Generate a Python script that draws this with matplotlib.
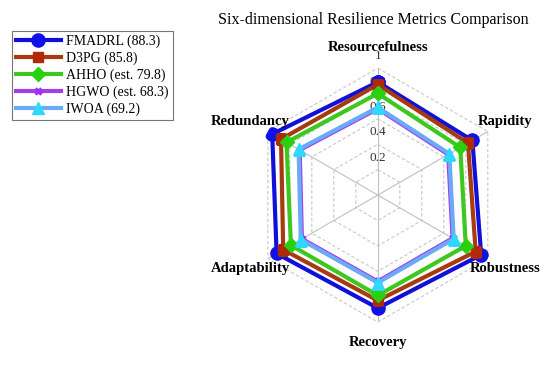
import numpy as np
import matplotlib
matplotlib.use("Agg")
import matplotlib.pyplot as plt

plt.rcParams['font.family'] = ['Liberation Serif', 'DejaVu Serif']

categories = ["Resourcefulness", "Rapidity", "Robustness", "Recovery", "Adaptability", "Redundancy"]
series_names = ["FMADRL (88.3)", "D3PG (85.8)", "AHHO (est. 79.8)", "HGWO (est. 68.3)", "IWOA (69.2)"]
fmadrl = [0.89, 0.86, 0.94, 0.89, 0.92, 0.96]
d3pg   = [0.87, 0.82, 0.89, 0.83, 0.86, 0.88]
ahho   = [0.80, 0.75, 0.80, 0.79, 0.79, 0.83]
hgwo   = [0.68, 0.64, 0.68, 0.68, 0.69, 0.71]
iwoa   = [0.69, 0.65, 0.69, 0.69, 0.70, 0.72]
r_ticks = [0.2, 0.4, 0.6, 0.8, 1.0]
r_tick_labels = ["0.2", "0.4", "0.6", "0.8", "1"]

values = [fmadrl, d3pg, ahho, hgwo, iwoa]
line_colors = ["#1010D8", "#A83A10", "#3CC81E", "#A040E8", "#6AAAF8"]
marker_face = ["#1010E8", "#B02A08", "#28D010", "#A030F0", "#30D8FF"]
markers = ["o", "s", "D", "x", "^"]
msizes = [9.5, 7.5, 7.5, 5, 8.5]

fig = plt.figure(figsize=(5.5, 3.66), dpi=100)
ax = fig.add_axes([0.456, 0.120, 0.4618, 0.694], projection='polar')
ax.set_theta_zero_location('N')
ax.set_theta_direction(-1)
ax.set_ylim(0, 1.0)

n = len(categories)
theta = np.linspace(0, 2 * np.pi, n, endpoint=False)
theta_c = np.concatenate([theta, theta[:1]])

ax.grid(False)
ax.spines['polar'].set_visible(False)
ax.set_xticks([])
ax.set_yticks([])
ax.patch.set_alpha(0)

# hexagonal dashed grid
for r in r_ticks:
    ax.plot(theta_c, [r] * (n + 1), color="#c8c8c8", lw=0.8, ls=(0, (3, 2)), zorder=1)
for t in theta:
    ax.plot([t, t], [0, 1.0], color="#c0c0c0", lw=0.8, zorder=1)

# radial labels
for r, lab in zip(r_ticks, r_tick_labels):
    ax.annotate(lab, xy=(0, r), xytext=(0, 8.5), textcoords='offset points',
                ha='center', va='center', fontsize=9.5, color="#333333", zorder=1.5)

handles = []
for vals, name, lc, mf, mk, ms in zip(values, series_names, line_colors, marker_face, markers, msizes):
    v = list(vals) + [vals[0]]
    mew = 2.5 if mk == "x" else 1
    h, = ax.plot(theta_c, v, color=lc, lw=3, marker=mk, markersize=ms,
                 markerfacecolor=mf, markeredgecolor=mf, markeredgewidth=mew,
                 label=name, zorder=3)
    handles.append(h)

for t, c in zip(theta, categories):
    ax.text(t, 1.16, c, ha='center', va='center', fontsize=10.5, fontweight='bold')

fig.text(0.678, 0.945, "Six-dimensional Resilience Metrics Comparison", ha='center', va='center',
         fontsize=11.5)

leg = fig.legend(handles=handles, loc='upper left', bbox_to_anchor=(0.009, 0.935),
                 fontsize=10, handlelength=3.2, frameon=True, fancybox=False,
                 edgecolor="#555555", borderpad=0.3, labelspacing=0.25, handletextpad=0.4)
leg.get_frame().set_linewidth(0.8)

fig.savefig("out.png", dpi=100)
